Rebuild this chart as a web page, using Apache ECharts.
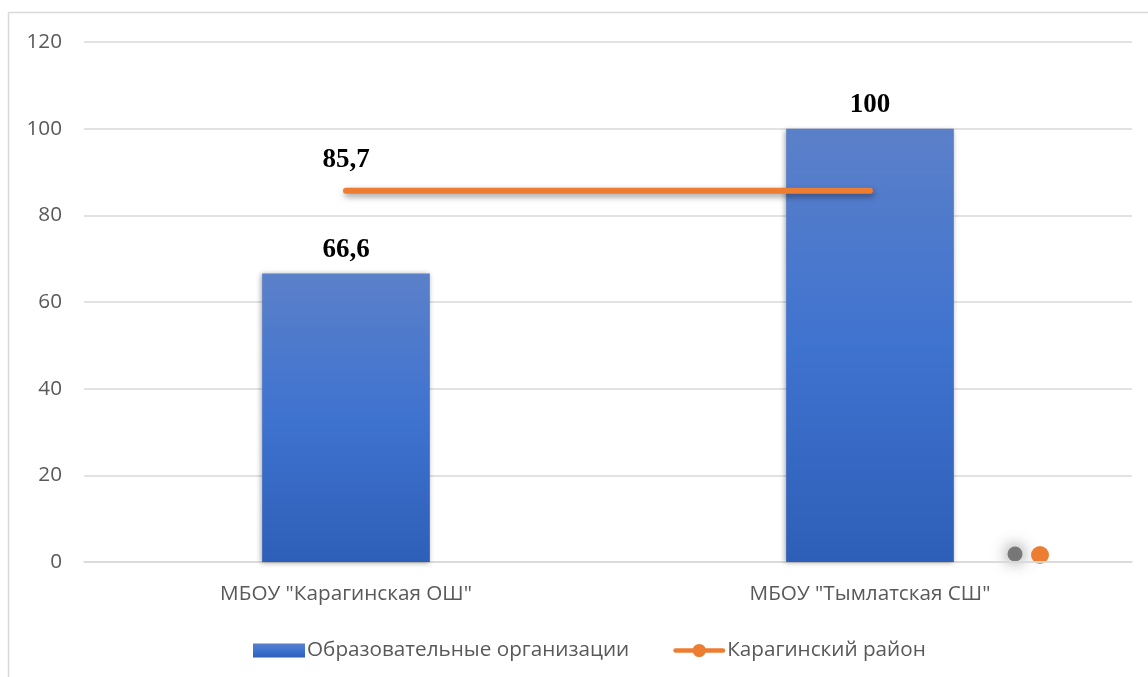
<!DOCTYPE html>
<html>
<head>
<meta charset="utf-8">
<script src="https://cdn.jsdelivr.net/npm/echarts@6/dist/echarts.min.js"></script>
<style>
html,body{margin:0;padding:0;background:#fff;}
#c{width:1148px;height:677px;}
</style>
</head>
<body>
<div id="c"></div>
<script>
const categories = ['МБОУ "Карагинская ОШ"', 'МБОУ "Тымлатская СШ"'];
const barName = 'Образовательные организации';
const lineName = 'Карагинский район';
const barValues = [66.6, 100];
const lineValues = [85.7, 85.7];
const yTicks = { min: 0, max: 120, interval: 20 };

const fmt = v => String(v).replace('.', ',');

const chart = echarts.init(document.getElementById('c'), null, { renderer: 'canvas' });
const axisFont = { fontFamily: 'Open Sans, Noto Sans, sans-serif', fontSize: 20.7, color: '#595959' };
const orange = '#ED7D31';
const lineLegendIcon = 'path://M3,4.5 L53,4.5 A2.5,2.5 0 0 1 53,9.5 L3,9.5 A2.5,2.5 0 0 1 3,4.5 Z M35,7 A7,7 0 1 1 21,7 A7,7 0 1 1 35,7 Z';

chart.setOption({
  backgroundColor: '#fff',
  animation: false,
  grid: { left: 84, right: 16, top: 42, bottom: 115, containLabel: false },
  legend: {
    left: 248, top: 635,
    itemWidth: 52, itemHeight: 14, itemGap: 44,
    textStyle: { ...axisFont, padding: [0, 0, 0, -3] },
    data: [
      { name: barName, icon: 'rect' },
      { name: lineName, icon: lineLegendIcon, itemStyle: { color: orange } }
    ]
  },
  xAxis: {
    type: 'category', data: categories,
    axisLine: { lineStyle: { color: '#D9D9D9', width: 1.5 } },
    axisTick: { show: false },
    axisLabel: { ...axisFont, margin: 22 }
  },
  yAxis: {
    type: 'value', min: yTicks.min, max: yTicks.max, interval: yTicks.interval,
    axisLine: { show: false }, axisTick: { show: false },
    axisLabel: { ...axisFont, margin: 22 },
    splitLine: { lineStyle: { color: '#D9D9D9', width: 1.5 } }
  },
  series: [
    {
      name: barName, type: 'bar', data: barValues, barWidth: '32%',
      itemStyle: {
        color: new echarts.graphic.LinearGradient(0, 0, 0, 1, [
          { offset: 0, color: '#5B80C9' },
          { offset: 0.5, color: '#3F73D0' },
          { offset: 1, color: '#2E5FB8' }
        ]),
        shadowColor: 'rgba(0,0,0,0.35)', shadowBlur: 5, shadowOffsetX: -1, shadowOffsetY: 1
      },
      label: {
        show: true, position: 'top', distance: 10,
        formatter: p => fmt(p.value),
        fontFamily: 'Liberation Serif, Times New Roman, serif', fontWeight: 'bold', fontSize: 27, color: '#000'
      }
    },
    {
      name: lineName, type: 'line', data: lineValues,
      symbol: 'circle', symbolSize: 0.01, showSymbol: true,
      itemStyle: { color: orange },
      lineStyle: { color: orange, width: 6, cap: 'round',
        shadowColor: 'rgba(0,0,0,0.4)', shadowBlur: 6, shadowOffsetX: 1, shadowOffsetY: 3 },
      label: {
        show: true, position: 'top', distance: 17,
        formatter: p => p.dataIndex === 0 ? fmt(p.value) : '',
        fontFamily: 'Liberation Serif, Times New Roman, serif', fontWeight: 'bold', fontSize: 27, color: '#000'
      },
      z: 3
    }
  ],
  graphic: [
    { type: 'line', shape: { x1: 8.5, y1: 12.5, x2: 1148, y2: 12.5 }, style: { stroke: '#D9D9D9', lineWidth: 1.5 }, silent: true },
    { type: 'line', shape: { x1: 8.5, y1: 12.5, x2: 8.5, y2: 677 }, style: { stroke: '#D9D9D9', lineWidth: 1.5 }, silent: true },
    { type: 'circle', shape: { cx: 1015, cy: 554, r: 7.5 }, style: { fill: 'rgba(90,90,90,0.75)', shadowColor: 'rgba(60,60,60,1)', shadowBlur: 16 }, silent: true },
    { type: 'circle', shape: { cx: 1040, cy: 555, r: 9 }, style: { fill: orange }, silent: true }
  ]
});
</script>
</body>
</html>
